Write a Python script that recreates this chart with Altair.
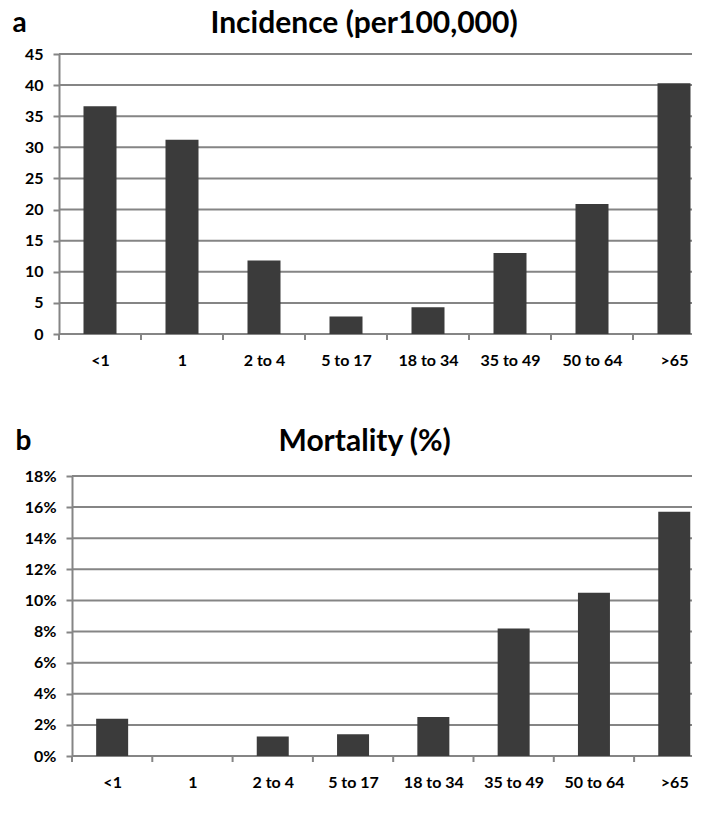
import json
import altair as alt
import pandas as pd

categories = ["<1", "1", "2 to 4", "5 to 17", "18 to 34", "35 to 49", "50 to 64", ">65"]
incidence = [36.6, 31.2, 11.8, 2.8, 4.3, 13.0, 20.9, 40.3]
mortality_pct = [2.4, 0.0, 1.25, 1.4, 2.5, 8.2, 10.5, 15.7]

inc_ticks = [0, 5, 10, 15, 20, 25, 30, 35, 40, 45]
mort_ticks = [0, 0.02, 0.04, 0.06, 0.08, 0.10, 0.12, 0.14, 0.16, 0.18]

df_inc = pd.DataFrame({"age": categories, "value": incidence})
df_mort = pd.DataFrame({"age": categories, "value": [v / 100 for v in mortality_pct]})

CAT_JS = json.dumps(categories)
FONT = "Lato"
GRID = "#858585"
BAR = "#3b3b3b"
H = 280
PLOT_W = 620


def panel(df, y_ticks, letter, title_text, title_dx, title_y, y_domain, y_format,
          axis_offset, extent, band, letter_x, letter_y, bar_size):
    # category i occupies [i, i+1] on a continuous scale; value 0 sits on the y axis
    d0 = axis_offset / band
    d1 = d0 + PLOT_W / band
    xs = alt.Scale(domain=[d0, d1], nice=False, zero=False, padding=0)
    ys = alt.Scale(domain=y_domain, nice=False, zero=True, padding=0)

    x_axis = alt.Axis(title=None, values=[i + 0.5 for i in range(len(categories))],
                      labelExpr=f"{CAT_JS}[floor(datum.value)]",
                      domain=False, ticks=False, tickSize=0, grid=False,
                      labelAngle=0, labelFlush=False, labelOverlap=False, labelBound=False,
                      labelFont=FONT, labelFontSize=16, labelFontWeight="bold",
                      labelColor="black", labelPadding=18, orient="bottom")
    title_axis = alt.Axis(orient="top", labels=False, ticks=False, domain=False, grid=False,
                          minExtent=0, maxExtent=0,
                          title=title_text, titleX=title_dx, titleY=title_y, titleAngle=0,
                          titleAlign="left", titleBaseline="alphabetic", titleFont=FONT,
                          titleFontSize=30, titleFontWeight="bold", titleColor="black")
    y_axis = alt.Axis(values=y_ticks, format=y_format, grid=False,
                      offset=axis_offset,
                      domain=True, domainColor=GRID, domainWidth=2,
                      ticks=True, tickColor=GRID, tickWidth=2, tickSize=6,
                      labelFont=FONT, labelFontSize=16, labelFontWeight="bold",
                      labelColor="black", labelPadding=10,
                      minExtent=extent, maxExtent=extent,
                      title=letter, titleAngle=0, titleX=letter_x, titleY=letter_y,
                      titleAlign="left", titleBaseline="alphabetic", titleFont=FONT,
                      titleFontSize=28, titleFontWeight="bold", titleColor="black")

    grid = alt.Chart(pd.DataFrame({"value": y_ticks})).mark_rule(
        color=GRID, strokeWidth=2
    ).encode(
        y=alt.Y("value:Q", scale=ys, axis=y_axis),
        x=alt.datum(0, scale=xs, axis=None),
        x2=alt.datum(d1),
    )

    base = alt.Chart(df).transform_calculate(idx=f"indexof({CAT_JS}, datum.age)")

    bars = base.transform_calculate(pos="datum.idx + 0.5").mark_bar(
        size=bar_size, color=BAR
    ).encode(
        x=alt.X("pos:Q", scale=xs, axis=x_axis),
        y=alt.Y("value:Q", scale=ys, axis=y_axis),
    )

    xticks = base.mark_rule(color=GRID, strokeWidth=2).encode(
        x=alt.X("idx:Q", scale=xs, axis=title_axis),
        y=alt.value(H),
        y2=alt.value(H + 6),
    )

    return alt.layer(grid, bars, xticks).resolve_axis(x="independent").properties(
        width=PLOT_W, height=H
    )


top = panel(df_inc, inc_ticks, "a", "Incidence (per100,000)", 138, -22, [0, 45], "d",
            13, 51, 82, -47, -23, 33)
bottom = panel(df_mort, mort_ticks, "b", "Mortality (%)", 206, -26, [0, 0.18], ".0%",
               0, 64, 80.3, -57, -27, 32)

chart = alt.vconcat(top, bottom, spacing=58).properties(
    padding=0
).configure_view(stroke=None)

chart.save("out.html", embed_options={"renderer": "svg", "actions": False})
